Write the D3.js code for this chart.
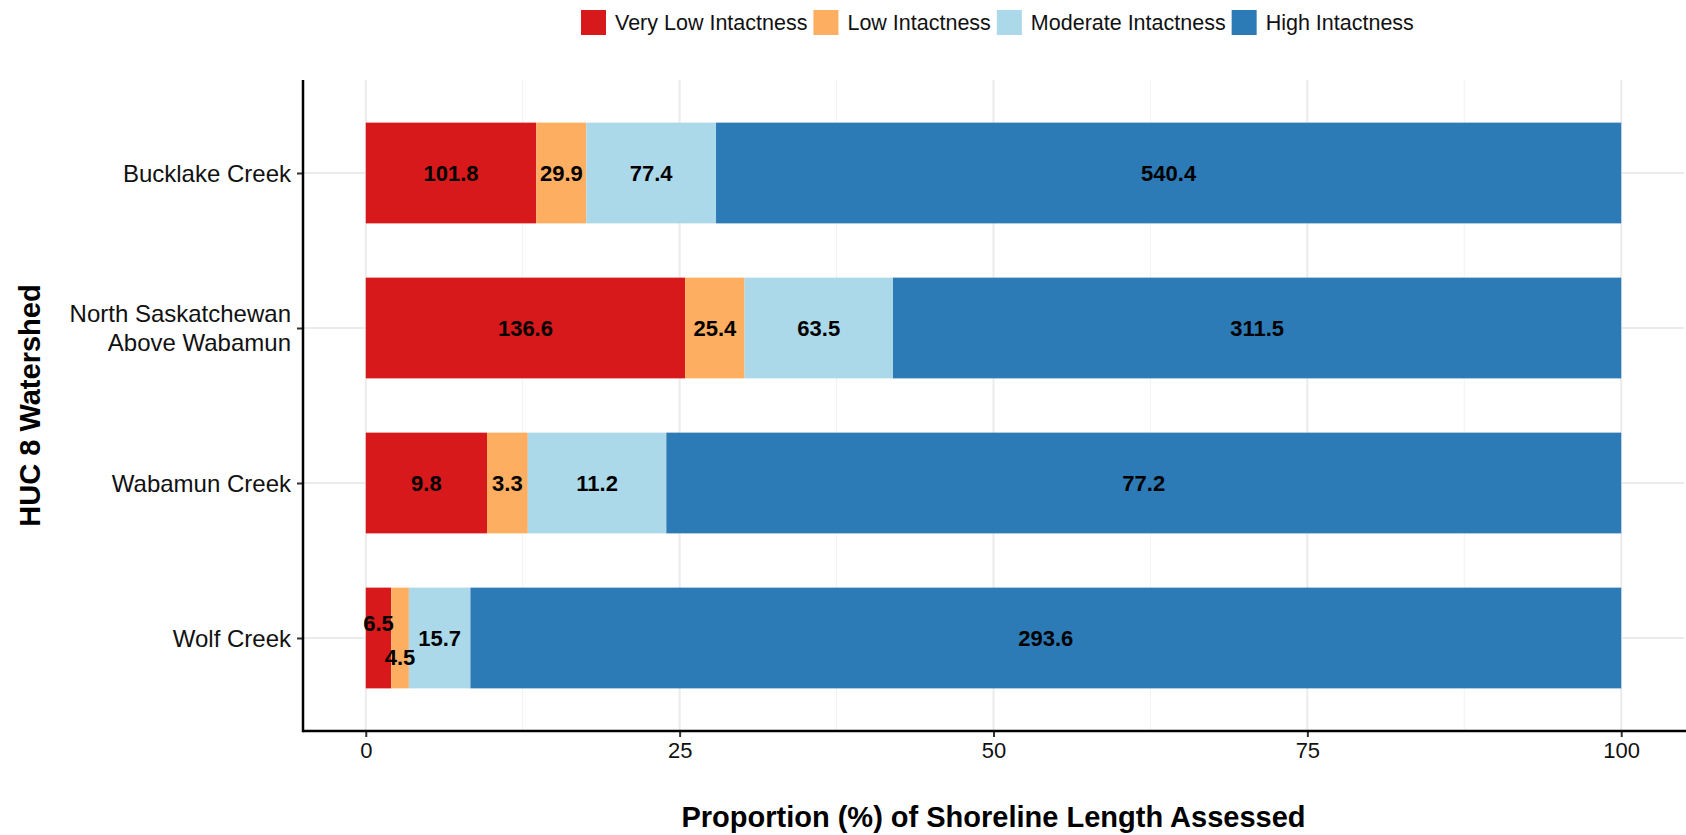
<!DOCTYPE html>
<html>
<head>
<meta charset="utf-8">
<script src="https://cdn.jsdelivr.net/npm/d3@7"></script>
<style>
  html, body { margin: 0; padding: 0; background: #ffffff; }
  svg { display: block; font-family: "Liberation Sans", Arial, Helvetica, sans-serif; }
</style>
</head>
<body>
<svg id="chart" width="1686" height="835"></svg>
<script>
// ---------------- data ----------------
const categories = ["Bucklake Creek", "North Saskatchewan\nAbove Wabamun", "Wabamun Creek", "Wolf Creek"];
const seriesNames = ["Very Low Intactness", "Low Intactness", "Moderate Intactness", "High Intactness"];
const veryLow  = [101.8, 136.6, 9.8, 6.5];
const low      = [29.9, 25.4, 3.3, 4.5];
const moderate = [77.4, 63.5, 11.2, 15.7];
const high     = [540.4, 311.5, 77.2, 293.6];
const xTicks = [0, 25, 50, 75, 100];
const xMinorTicks = [12.5, 37.5, 62.5, 87.5];

// ---------------- style ----------------
const colors = ["#D7191C", "#FDAE61", "#ABD9E9", "#2C7BB6"];
// small vertical nudges for labels that would overlap (styling only)
const labelNudge = { "Wolf Creek|0": -15, "Wolf Creek|1": 19 };

const W = 1686, H = 835;
const panel = { left: 303, right: 1684, top: 80, bottom: 731 };

const svg = d3.select("#chart");

const x = d3.scaleLinear().domain([-5, 105]).range([panel.left, panel.right]);
const y = d3.scalePoint().domain(categories).range([panel.top, panel.bottom]).padding(0.6);
const step = y.step();
const barH = step * 0.65;

// rows with stacking as proportions
const seriesVals = [veryLow, low, moderate, high];
const rows = categories.map((c, i) => {
  const vals = seriesVals.map(s => s[i]);
  const total = d3.sum(vals);
  let cum = 0;
  return vals.map((v, k) => {
    const p0 = cum / total * 100;
    cum += v;
    const p1 = cum / total * 100;
    return { cat: c, k, v, p0, p1 };
  });
});

// grid
const grid = svg.append("g");
grid.selectAll(".minor").data(xMinorTicks).join("line")
  .attr("x1", d => x(d)).attr("x2", d => x(d))
  .attr("y1", panel.top).attr("y2", panel.bottom)
  .attr("stroke", "#f2f2f2").attr("stroke-width", 1);
grid.selectAll(".major").data(xTicks).join("line")
  .attr("x1", d => x(d)).attr("x2", d => x(d))
  .attr("y1", panel.top).attr("y2", panel.bottom)
  .attr("stroke", "#ebebeb").attr("stroke-width", 2);
grid.selectAll(".hmajor").data(categories).join("line")
  .attr("x1", panel.left).attr("x2", panel.right)
  .attr("y1", d => y(d)).attr("y2", d => y(d))
  .attr("stroke", "#ebebeb").attr("stroke-width", 2);

// bars
const bars = svg.append("g");
rows.forEach(r => {
  bars.selectAll(null).data(r).join("rect")
    .attr("x", d => x(d.p0))
    .attr("width", d => x(d.p1) - x(d.p0))
    .attr("y", d => y(d.cat) - barH / 2)
    .attr("height", barH)
    .attr("fill", d => colors[d.k]);
});

// value labels
const labels = svg.append("g");
rows.forEach(r => {
  labels.selectAll(null).data(r).join("text")
    .attr("x", d => x((d.p0 + d.p1) / 2))
    .attr("y", d => y(d.cat) + (labelNudge[d.cat.split("\n")[0] + "|" + d.k] || 0))
    .attr("dy", "0.36em")
    .attr("text-anchor", "middle")
    .attr("font-size", 22)
    .attr("font-weight", "bold")
    .attr("fill", "#000")
    .text(d => d3.format(".1f")(d.v));
});

// x axis
const xAxis = d3.axisBottom(x).tickValues(xTicks).tickSize(6).tickPadding(5).tickFormat(d3.format("d"));
const gx = svg.append("g").attr("transform", `translate(0,${panel.bottom})`).call(xAxis);
gx.select(".domain").remove();
gx.selectAll(".tick line").attr("stroke", "#333").attr("stroke-width", 2);
gx.selectAll(".tick text").attr("font-size", 22).attr("fill", "#111")
  .attr("font-family", "Liberation Sans, Arial, sans-serif");
svg.append("line").attr("x1", panel.left).attr("x2", W)
  .attr("y1", panel.bottom).attr("y2", panel.bottom)
  .attr("stroke", "#000").attr("stroke-width", 2.5);

// y axis
const yAxis = d3.axisLeft(y).tickSize(6).tickPadding(8).tickFormat(() => "");
const gy = svg.append("g").attr("transform", `translate(${panel.left},0)`).call(yAxis);
gy.select(".domain").remove();
gy.selectAll(".tick line").attr("stroke", "#333").attr("stroke-width", 2);
gy.selectAll(".tick text").each(function(d) {
  const t = d3.select(this);
  const lines = d.split("\n");
  t.text(null).attr("font-size", 24).attr("fill", "#111")
    .attr("font-family", "Liberation Sans, Arial, sans-serif")
    .attr("x", -12).attr("dy", null).attr("text-anchor", "end");
  const lh = 29;
  lines.forEach((ln, i) => {
    t.append("tspan").attr("x", -12)
      .attr("y", (i - (lines.length - 1) / 2) * lh)
      .attr("dy", "0.35em").text(ln);
  });
});
svg.append("line").attr("x1", panel.left).attr("x2", panel.left)
  .attr("y1", panel.top).attr("y2", panel.bottom + 1.2)
  .attr("stroke", "#000").attr("stroke-width", 2.5);

// axis titles
svg.append("text")
  .attr("x", (panel.left + panel.right) / 2).attr("y", 827)
  .attr("text-anchor", "middle").attr("font-size", 29).attr("font-weight", "bold")
  .attr("fill", "#000")
  .text("Proportion (%) of Shoreline Length Assessed");
svg.append("text")
  .attr("transform", `translate(40,${(panel.top + panel.bottom) / 2}) rotate(-90)`)
  .attr("text-anchor", "middle").attr("font-size", 29).attr("font-weight", "bold")
  .attr("fill", "#000")
  .text("HUC 8 Watershed");

// legend
const legend = svg.append("g");
let lx = 581;
const sq = 25, ly = 10;
seriesNames.forEach((name, k) => {
  legend.append("rect").attr("x", lx).attr("y", ly).attr("width", sq).attr("height", sq)
    .attr("fill", colors[k]);
  const t = legend.append("text").attr("x", lx + sq + 9).attr("y", ly + sq / 2)
    .attr("dy", "0.35em").attr("font-size", 21.5).attr("fill", "#111").text(name);
  const w = t.node().getComputedTextLength();
  lx += sq + 9 + w + 6;
});
</script>
</body>
</html>
